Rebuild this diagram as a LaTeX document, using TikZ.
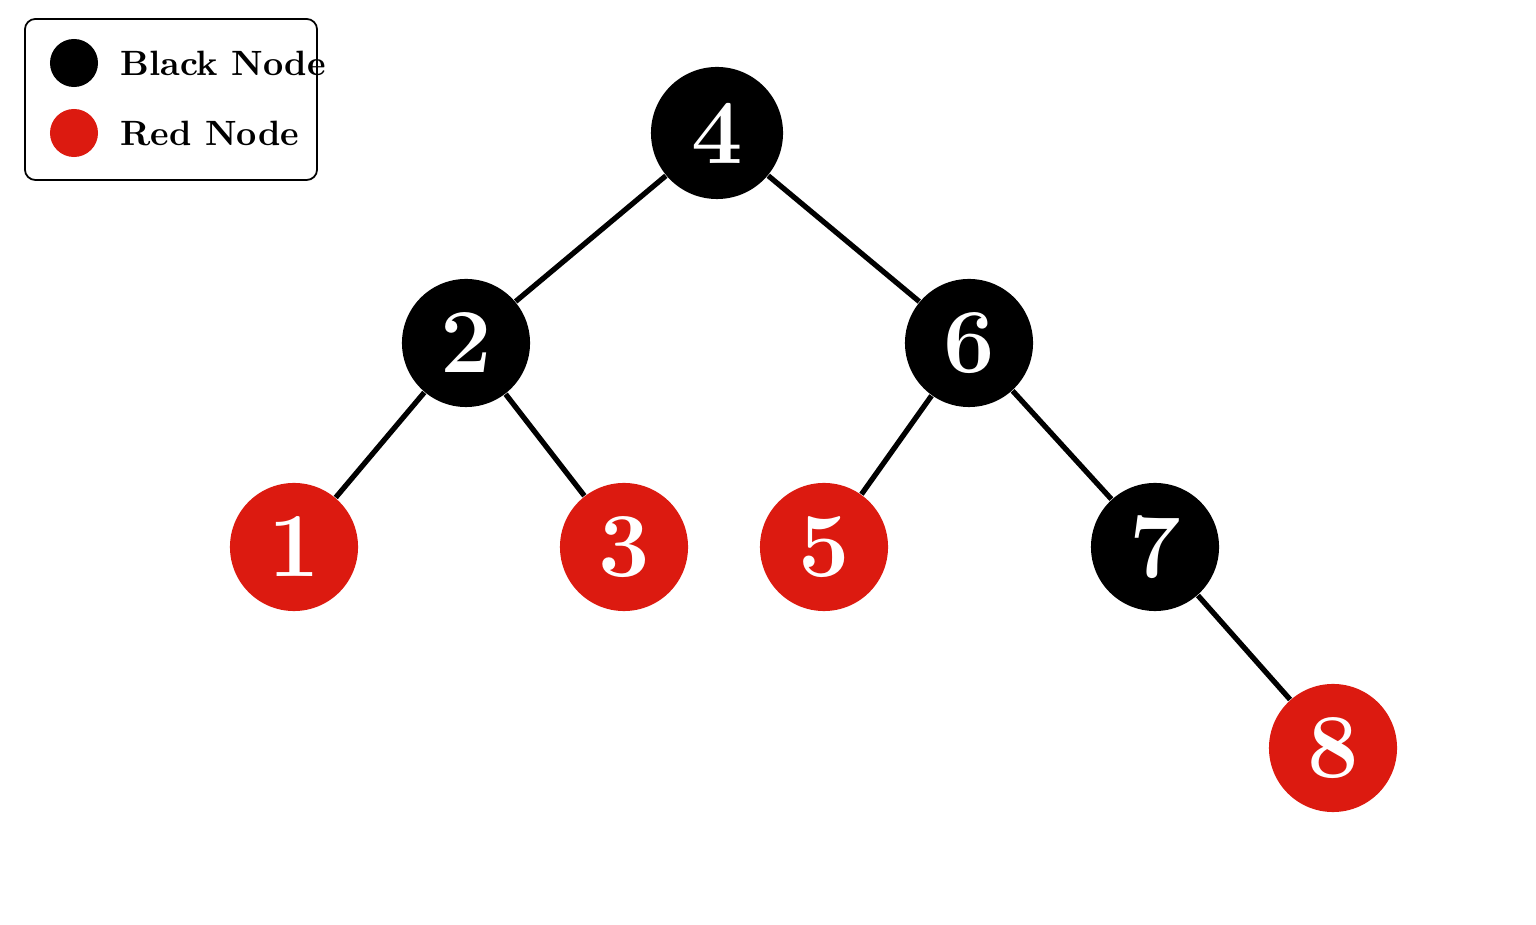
\documentclass[tikz,border=0pt]{standalone}
\usepackage{tikz}
\usetikzlibrary{positioning}
\definecolor{rbred}{HTML}{DC1A10}
\tikzset{
  rbnode/.style={circle, minimum size=1.28cm, inner sep=0pt, text=white,
    font=\fontsize{26}{28}\selectfont\bfseries},
  blacknode/.style={rbnode, fill=black},
  rednode/.style={rbnode, fill=rbred},
  keydot/.style={circle, minimum size=0.48cm, inner sep=0pt},
  keytext/.style={right, font=\fontsize{10}{12}\selectfont\bfseries}
}
\begin{document}
\begin{tikzpicture}[x=0.01cm,y=-0.01cm]
    \useasboundingbox (0,0) rectangle (1536,925);
    % legend
    \node[draw, rounded corners=3pt, line width=0.5pt, minimum width=2.92cm, minimum height=1.61cm, inner sep=0pt] (legend) at (171,99.5) {};
    \node[keydot, fill=black] (kb) at (74,63) {};
    \node[keydot, fill=rbred] (kr) at (74,133) {};
    \node[keytext] (kbt) at (108,63) {Black Node};
    \node[keytext] (krt) at (108,133) {Red Node};
    % tree
    \node[blacknode, minimum size=1.32cm] (n4) at (717,133) {4};
    \node[blacknode] (n2) at (466,343) {2};
    \node[blacknode] (n6) at (969,343) {6};
    \node[rednode] (n1) at (294,547) {1};
    \node[rednode] (n3) at (624,547) {3};
    \node[rednode] (n5) at (824,547) {5};
    \node[blacknode] (n7) at (1155,547) {7};
    \node[rednode] (n8) at (1333,748) {8};
    \path[draw, line width=1.5pt]
        (n4) -- (n2)
        (n4) -- (n6)
        (n2) -- (n1)
        (n2) -- (n3)
        (n6) -- (n5)
        (n6) -- (n7)
        (n7) -- (n8);
\end{tikzpicture}
\end{document}
